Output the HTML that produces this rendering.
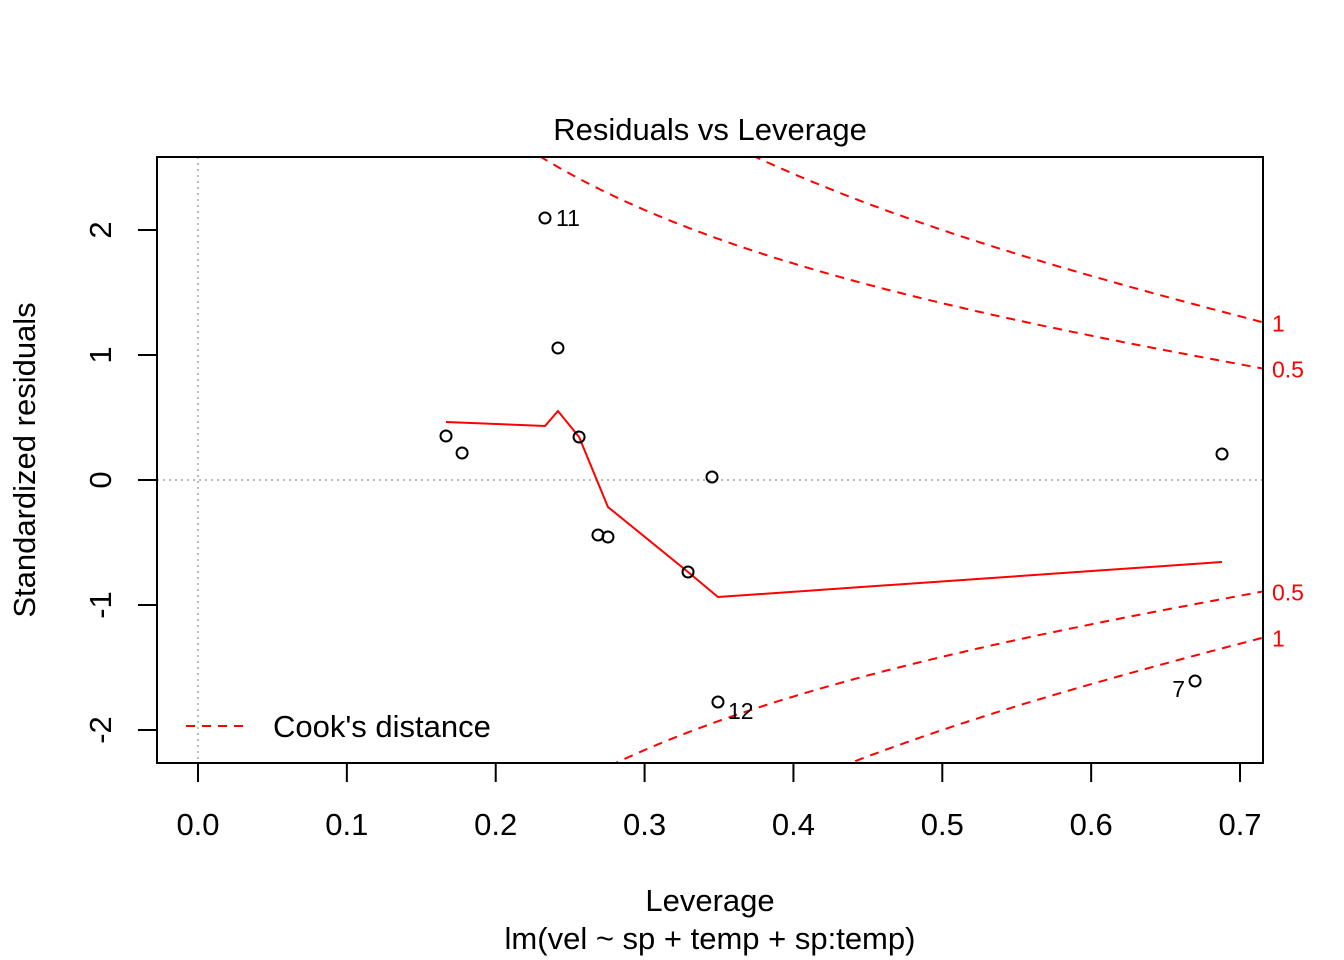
<!DOCTYPE html>
<html><head><meta charset="utf-8"><style>
html,body{margin:0;padding:0;background:#fff;overflow:hidden;width:1344px;height:960px;}
svg{display:block;font-family:"Liberation Sans",Arial,sans-serif;}
</style></head><body>
<svg id="chart" width="1344" height="960" viewBox="0 0 1344 960">
<defs><clipPath id="clip"><rect x="157" y="157" width="1106" height="606"/></clipPath></defs>
<rect width="1344" height="960" fill="#fff"/>
<text x="710" y="140" font-size="31" text-anchor="middle">Residuals vs Leverage</text>
<text x="710" y="911" font-size="31" text-anchor="middle">Leverage</text>
<text x="710" y="949" font-size="31" text-anchor="middle">lm(vel ~ sp + temp + sp:temp)</text>
<text x="0" y="0" font-size="31" text-anchor="middle" transform="translate(35,460) rotate(-90)">Standardized residuals</text>
<g id="grid" clip-path="url(#clip)"></g>
<g id="cook" clip-path="url(#clip)"></g>
<g id="marks"></g>
<g id="axes"></g>
<rect x="157" y="157" width="1106" height="606" fill="none" stroke="#000" stroke-width="2"/>
<line x1="186" y1="726" x2="246" y2="726" stroke="red" stroke-width="2" stroke-dasharray="9,7"/>
<text x="273" y="737" font-size="31">Cook's distance</text>
</svg>
<script>
const leverage=[0.1666,0.1774,0.2331,0.2418,0.256,0.2687,0.2754,0.3292,0.3453,0.3493,0.6698,0.6879];
const residuals=[0.352,0.216,2.096,1.056,0.344,-0.44,-0.456,-0.736,0.024,-1.776,-1.608,0.208];
const pointLabels=["","","11","","","","","","","12","7",""];
const smoothX=[0.1666,0.2331,0.2418,0.256,0.2754,0.3292,0.3493,0.6879];
const smoothY=[0.464,0.432,0.552,0.344,-0.216,-0.736,-0.936,-0.656];
const cookLevels=[0.5,1];
const cookLabels=["0.5","1"];
const nParams=4;
const xTicks=[0,0.1,0.2,0.3,0.4,0.5,0.6,0.7];
const xTickLabels=["0.0","0.1","0.2","0.3","0.4","0.5","0.6","0.7"];
const yTicks=[-2,-1,0,1,2];
const yTickLabels=["-2","-1","0","1","2"];

const NS="http://www.w3.org/2000/svg";
const X=v=>198+v*1488.6, Y=v=>480-v*125;
const xMax=(1263-198)/1488.6;
function mk(tag,attrs,parent){const e=document.createElementNS(NS,tag);for(const k in attrs)e.setAttribute(k,attrs[k]);document.getElementById(parent).appendChild(e);return e;}

let e;
e=mk('line',{x1:X(0),y1:157,x2:X(0),y2:763,stroke:'#bbb','stroke-width':2,'stroke-dasharray':'2,4'},'grid');


e=mk('line',{x1:157,y1:Y(0),x2:1263,y2:Y(0),stroke:'#bbb','stroke-width':2,'stroke-dasharray':'2,4'},'grid');



cookLevels.forEach((lev,i)=>{
  [1,-1].forEach(sgn=>{
    let d='';
    for(let k=0;k<=200;k++){const h=0.02+k*(xMax-0.02)/200;const r=sgn*Math.sqrt(lev*nParams*(1-h)/h);d+=(k?'L':'M')+X(h).toFixed(1)+','+Y(r).toFixed(1);}
    e=mk('path',{d:d,fill:'none',stroke:'red','stroke-width':2,'stroke-dasharray':'9,7'},'cook');
    
    
    const r=sgn*Math.sqrt(lev*nParams*(1-xMax)/xMax);
    e=mk('text',{x:1272,y:Y(r)+9,fill:'red','font-size':23},'marks');
    e.textContent=cookLabels[i];
    
    
  });
});

let sd='';smoothX.forEach((v,i)=>{sd+=(i?'L':'M')+X(v)+','+Y(smoothY[i]);});
e=mk('path',{d:sd,fill:'none',stroke:'red','stroke-width':2},'marks');



leverage.forEach((v,i)=>{
  e=mk('circle',{cx:X(v),cy:Y(residuals[i]),r:5.5,fill:'none',stroke:'#000','stroke-width':2},'marks');
  
  
  if(pointLabels[i]){
    let tx=X(v)+11,ty=Y(residuals[i])+8,anchor='start';
    if(pointLabels[i]==='12'){tx=X(v)+10;ty=Y(residuals[i])+17;}
    if(pointLabels[i]==='7'){tx=X(v)-10;ty=Y(residuals[i])+16;anchor='end';}
    e=mk('text',{x:tx,y:ty,'font-size':23,'text-anchor':anchor},'marks');
    e.textContent=pointLabels[i];
    
    
  }
});

xTicks.forEach((t,i)=>{
  e=mk('line',{x1:X(t),y1:763,x2:X(t),y2:782,stroke:'#000','stroke-width':2},'axes');
  
  
  e=mk('text',{x:X(t),y:835,'font-size':31,'text-anchor':'middle'},'axes');
  e.textContent=xTickLabels[i];
  
  
});
yTicks.forEach((t,i)=>{
  e=mk('line',{x1:138,y1:Y(t),x2:157,y2:Y(t),stroke:'#000','stroke-width':2},'axes');
  
  
  e=mk('text',{x:0,y:0,'font-size':31,'text-anchor':'middle',transform:'translate(111,'+Y(t)+') rotate(-90)'},'axes');
  e.textContent=yTickLabels[i];
  
  
});
</script>
</body></html>
